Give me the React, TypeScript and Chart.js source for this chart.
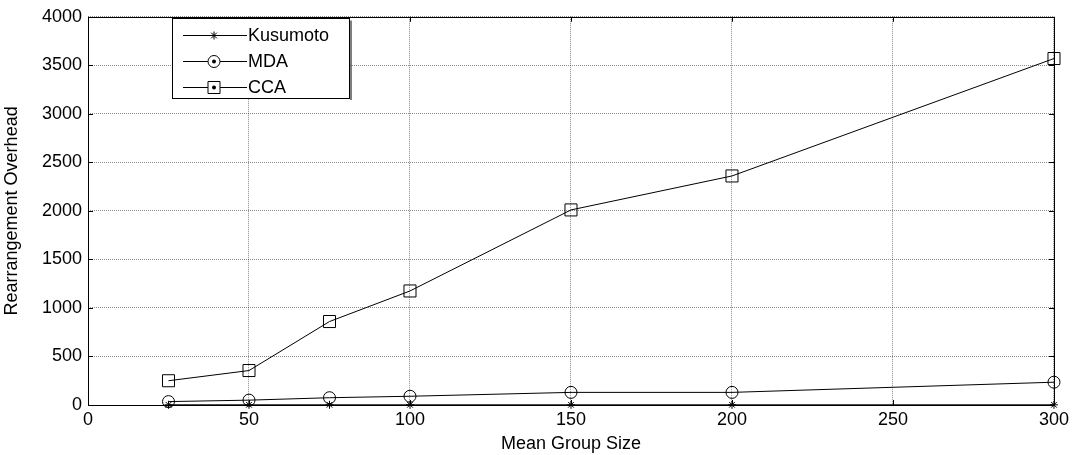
import React, { useEffect, useRef } from "react";
import { Chart, registerables } from "chart.js";

Chart.register(...registerables);

const groupSizes = [25, 50, 75, 100, 150, 200, 300];
const kusumoto = [2, 2, 2, 2, 2, 2, 2];
const mda = [35, 50, 75, 90, 130, 130, 235];
const cca = [250, 355, 860, 1175, 2010, 2360, 3570];
const seriesNames = ["Kusumoto", "MDA", "CCA"];
const xTicks = [0, 50, 100, 150, 200, 250, 300];
const yTicks = [0, 500, 1000, 1500, 2000, 2500, 3000, 3500, 4000];

const FONT = "Liberation Sans, Arial, sans-serif";

const framePlugin = {
  id: "frame",
  afterDraw(chart: any) {
    const { ctx, chartArea: a, scales } = chart;
    ctx.save();
    ctx.strokeStyle = "#000";
    ctx.lineWidth = 1;
    ctx.strokeRect(Math.round(a.left) + 0.5, Math.round(a.top) + 0.5, Math.round(a.right - a.left), Math.round(a.bottom - a.top));
    const tl = 5;
    ctx.beginPath();
    for (const v of xTicks) {
      const x = Math.round(scales.x.getPixelForValue(v)) + 0.5;
      ctx.moveTo(x, a.bottom);
      ctx.lineTo(x, a.bottom - tl);
      ctx.moveTo(x, a.top);
      ctx.lineTo(x, a.top + tl);
    }
    for (const v of yTicks) {
      const y = Math.round(scales.y.getPixelForValue(v)) + 0.5;
      ctx.moveTo(a.left, y);
      ctx.lineTo(a.left + tl, y);
      ctx.moveTo(a.right, y);
      ctx.lineTo(a.right - tl, y);
    }
    ctx.stroke();

    // legend
    const bx = 172.5, by = 18.5, bw = 177, bh = 80;
    ctx.fillStyle = "#fff";
    ctx.fillRect(bx, by, bw, bh);
    ctx.strokeRect(bx, by, bw, bh);
    ctx.beginPath();
    ctx.moveTo(bx + bw + 1.5, by + 2);
    ctx.lineTo(bx + bw + 1.5, by + bh + 1.5);
    ctx.stroke();
    const rows = [35, 61, 87];
    ctx.font = `18px ${FONT}`;
    ctx.textBaseline = "middle";
    ctx.fillStyle = "#000";
    rows.forEach((ry, i) => {
      const y = ry + 0.5;
      ctx.beginPath();
      ctx.moveTo(183, y);
      ctx.lineTo(247, y);
      ctx.stroke();
      const mx = 214;
      ctx.beginPath();
      if (i === 0) {
        const r = 4;
        for (let k = 0; k < 4; k++) {
          const ang = (Math.PI / 4) * k;
          ctx.moveTo(mx - r * Math.cos(ang), y - r * Math.sin(ang));
          ctx.lineTo(mx + r * Math.cos(ang), y + r * Math.sin(ang));
        }
        ctx.stroke();
      } else if (i === 1) {
        ctx.fillStyle = "#fff";
        ctx.arc(mx, y, 6, 0, Math.PI * 2);
        ctx.fill();
        ctx.stroke();
        ctx.fillStyle = "#000";
        ctx.beginPath();
        ctx.arc(mx, y, 2, 0, Math.PI * 2);
        ctx.fill();
      } else {
        ctx.fillStyle = "#fff";
        ctx.rect(mx - 6, y - 6, 12, 12);
        ctx.fill();
        ctx.stroke();
        ctx.fillStyle = "#000";
        ctx.beginPath();
        ctx.arc(mx, y, 2, 0, Math.PI * 2);
        ctx.fill();
      }
      ctx.fillStyle = "#000";
      ctx.fillText(seriesNames[i], 248, y + 1);
    });
    ctx.restore();
  },
};

export default function App() {
  const ref = useRef<HTMLCanvasElement>(null);
  useEffect(() => {
    document.body.style.margin = "0";
    const mk = (vals: number[]) => groupSizes.map((x, i) => ({ x, y: vals[i] }));
    const base = { borderColor: "#000", borderWidth: 1, pointBorderColor: "#000", pointBackgroundColor: "rgba(0,0,0,0)", pointBorderWidth: 1, showLine: true, tension: 0, clip: false as any };
    const chart = new Chart(ref.current!, {
      type: "scatter",
      data: {
        datasets: [
          { ...base, label: seriesNames[0], data: mk(kusumoto), pointStyle: "star", pointRadius: 4 },
          { ...base, label: seriesNames[1], data: mk(mda), pointStyle: "circle", pointRadius: 6 },
          { ...base, label: seriesNames[2], data: mk(cca), pointStyle: "rect", pointRadius: 8.5 },
        ],
      },
      options: {
        animation: false,
        responsive: false,
        layout: { padding: { left: 0, right: 18, top: 15, bottom: 0 } },
        plugins: { legend: { display: false }, tooltip: { enabled: false } },
        scales: {
          x: {
            type: "linear",
            min: 0,
            max: 300,
            afterBuildTicks: (s: any) => { s.ticks = xTicks.map((v) => ({ value: v })); },
            afterFit: (s: any) => { s.height = 50; },
            grid: { color: "rgba(0,0,0,0.45)", drawTicks: false },
            border: { display: false, dash: [1, 1] },
            ticks: { color: "#000", font: { family: FONT, size: 18 }, padding: 4, maxRotation: 0, callback: (v: any) => String(v) },
            title: { display: true, text: "Mean Group Size", color: "#000", font: { family: FONT, size: 18 }, padding: { top: 0, bottom: 0 } },
          },
          y: {
            type: "linear",
            min: 0,
            max: 4000,
            afterBuildTicks: (s: any) => { s.ticks = yTicks.map((v) => ({ value: v })); },
            afterFit: (s: any) => { s.width = 88; },
            grid: { color: "rgba(0,0,0,0.45)", drawTicks: false },
            border: { display: false, dash: [1, 1] },
            ticks: { color: "#000", font: { family: FONT, size: 18 }, padding: 6, callback: (v: any) => String(v) },
            title: { display: true, text: "Rearrangement Overhead", color: "#000", font: { family: FONT, size: 18 }, padding: { top: 1, bottom: 0 } },
          },
        },
      },
      plugins: [framePlugin],
    });
    return () => chart.destroy();
  }, []);
  return (
    <div style={{ width: 1073, height: 455 }}>
      <canvas ref={ref} width={1073} height={455} style={{ display: "block" }} />
    </div>
  );
}
